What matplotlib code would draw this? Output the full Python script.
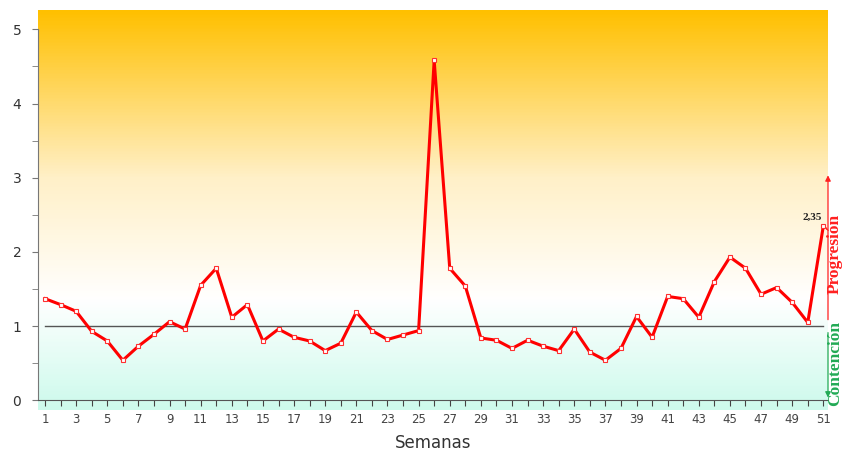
import numpy as np
import matplotlib
matplotlib.use("Agg")
import matplotlib.pyplot as plt
from matplotlib.colors import LinearSegmentedColormap
from matplotlib.transforms import blended_transform_factory

# weekly values
semanas = list(range(1, 52))
valores = [1.37, 1.29, 1.20, 0.93, 0.80, 0.54, 0.73, 0.89, 1.06, 0.96,
           1.55, 1.78, 1.12, 1.29, 0.80, 0.96, 0.85, 0.80, 0.67, 0.77,
           1.19, 0.94, 0.82, 0.88, 0.94, 4.58, 1.78, 1.54, 0.84, 0.81,
           0.70, 0.81, 0.73, 0.67, 0.96, 0.65, 0.54, 0.70, 1.13, 0.85,
           1.40, 1.37, 1.12, 1.60, 1.93, 1.78, 1.43, 1.52, 1.32, 1.05,
           2.35]
umbral = 1.0
etiqueta_final = "2,35"

XMIN, XMAX = 0.55, 51.3
YMIN, YMAX = -0.13, 5.26

fig = plt.figure(figsize=(8.45, 4.59), dpi=100)
ax = fig.add_axes([38 / 845, 1 - 410 / 459, (828 - 38) / 845, 400 / 459])

# background gradient: orange on top, white in the middle, light cyan at the bottom
stops = [(0.0, (205 / 255, 250 / 255, 236 / 255)),
         ((1.35 - YMIN) / (YMAX - YMIN), (1, 1, 1)),
         ((2.0 - YMIN) / (YMAX - YMIN), (1, 249 / 255, 232 / 255)),
         ((3.0 - YMIN) / (YMAX - YMIN), (1, 240 / 255, 200 / 255)),
         (1.0, (1, 192 / 255, 0))]
cmap = LinearSegmentedColormap.from_list("fondo", stops)
grad = np.linspace(0, 1, 400).reshape(-1, 1)
ax.imshow(grad, cmap=cmap, origin="lower", aspect="auto",
          extent=[XMIN, XMAX, YMIN, YMAX], zorder=0)

ax.plot([semanas[0], semanas[-1]], [umbral, umbral], color="#555555", lw=1, zorder=2)
ax.plot(semanas, valores, color="#ff0000", lw=2.2, marker="s", ms=3.2,
        mfc="white", mec="#ff3030", mew=0.8, zorder=3)
ax.text(semanas[-1] - 0.1, valores[-1] + 0.05, etiqueta_final, ha="right", va="bottom",
        fontsize=8, fontweight="bold", family="Liberation Serif", color="#222222")

ax.set_xlim(XMIN, XMAX)
ax.set_ylim(YMIN, YMAX)

for s in ["top", "right"]:
    ax.spines[s].set_visible(False)
ax.spines["left"].set_bounds(0, 5)
ax.spines["bottom"].set_position(("data", 0))
ax.spines["left"].set_color("#777777")
ax.spines["bottom"].set_color("#555555")

ax.set_yticks(range(0, 6))
ax.set_yticks(np.arange(0.5, 5, 1), minor=True)
ax.set_xticks(semanas)
ax.set_xticklabels([str(s) if s % 2 == 1 else "" for s in semanas])
ax.tick_params(axis="y", which="both", direction="out", length=4, color="#777777",
               labelsize=10, labelcolor="#333333", pad=8)
ax.tick_params(axis="x", direction="out", length=4, color="#444444",
               labelsize=8.5, labelcolor="#444444", pad=5)
ax.set_xlabel("Semanas", fontsize=12, color="#333333", labelpad=6)

# arrows on the right side
xa = 51.3
ax.annotate("", xy=(xa, 3.07), xytext=(xa, 1.05), annotation_clip=False,
            arrowprops=dict(arrowstyle="-|>", color="#ff2020", lw=0.9, mutation_scale=8))
ax.annotate("", xy=(xa, 0.0), xytext=(xa, 0.95), annotation_clip=False,
            arrowprops=dict(arrowstyle="-|>", color="#22aa55", lw=0.9, mutation_scale=8))
tr = blended_transform_factory(fig.transFigure, ax.transData)
ax.text(843 / 845, 1.97, "Progresión", rotation=90, ha="right", va="center",
        fontsize=12.5, fontweight="bold", family="Liberation Serif", color="#ff2020",
        transform=tr, clip_on=False)
ax.text(843 / 845, 0.5, "Contención", rotation=90, ha="right", va="center",
        fontsize=12.5, fontweight="bold", family="Liberation Serif", color="#22aa55",
        transform=tr, clip_on=False)

fig.savefig("out.png", dpi=100)
